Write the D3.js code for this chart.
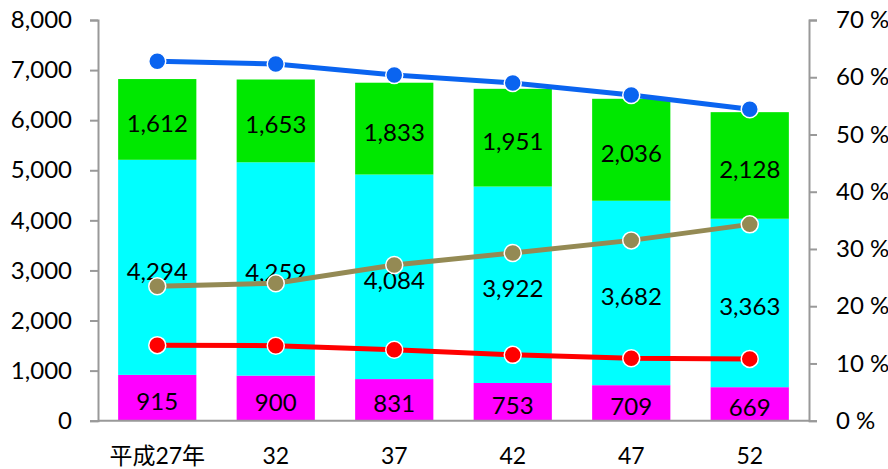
<!DOCTYPE html>
<html><head><meta charset="utf-8">
<script src="https://cdn.jsdelivr.net/npm/d3@7"></script>
<style>
body{margin:0;background:#fff;}
svg text{font-family:Lato,"Noto Sans CJK JP",sans-serif;fill:#000;}
</style></head>
<body><svg id="c" width="888" height="469"></svg>
<script>
const categories = ["平成27年","32","37","42","47","52"];
const seriesBottom = [915,900,831,753,709,669];
const seriesMiddle = [4294,4259,4084,3922,3682,3363];
const seriesTop = [1612,1653,1833,1951,2036,2128];
const lineBlue = [62.8,62.3,60.4,59.0,56.9,54.4];
const lineOlive = [23.5,24.0,27.2,29.3,31.5,34.3];
const lineRed = [13.2,13.1,12.4,11.5,10.9,10.8];
const leftTicks = [0,1000,2000,3000,4000,5000,6000,7000,8000];
const rightTicks = [0,10,20,30,40,50,60,70];

const svg = d3.select("#c");
const L = 98, R = 809, T = 20, B = 420.7;
const x = d3.scaleBand().domain(categories).range([L,R]).paddingInner(0.34).paddingOuter(0.17);
const y = d3.scaleLinear().domain([0,8000]).range([B,T]);
const y2 = d3.scaleLinear().domain([0,70]).range([B,T]);

const stackData = categories.map((c,i)=>({cat:c, a:seriesBottom[i], b:seriesMiddle[i], c:seriesTop[i]}));
const stack = d3.stack().keys(["a","b","c"])(stackData);
const colors = {a:"#FF00FF", b:"#00FFFF", c:"#00E800"};

const g = svg.append("g");
stack.forEach(layer=>{
  g.selectAll(null).data(layer).enter().append("rect")
    .attr("x", d=>x(d.data.cat)).attr("width", x.bandwidth())
    .attr("y", d=>y(d[1])).attr("height", d=>y(d[0])-y(d[1]))
    .attr("fill", colors[layer.key]);
});
stack.forEach(layer=>{
  g.selectAll(null).data(layer).enter().append("text")
    .attr("x", d=>x(d.data.cat)+x.bandwidth()/2)
    .attr("y", d=>(y(d[0])+y(d[1]))/2+3)
    .attr("text-anchor","middle").attr("dominant-baseline","central")
    .attr("font-size",24)
    .text(d=>d3.format(",")(d.data[layer.key]));
});

// axes
const axL = svg.append("g").attr("transform",`translate(${L},0)`)
  .call(d3.axisLeft(y).tickValues(leftTicks).tickFormat(d3.format(",")).tickSize(8).tickPadding(18));
const axR = svg.append("g").attr("transform",`translate(${R},0)`)
  .call(d3.axisRight(y2).tickValues(rightTicks).tickFormat(d=>d+" %").tickSize(8).tickPadding(19));
[axL,axR].forEach(a=>{
  a.select(".domain").attr("stroke","#999").attr("stroke-width",2);
  a.selectAll(".tick line").attr("stroke","#999").attr("stroke-width",2);
  a.selectAll("text").attr("font-size",24).attr("fill","#000");
});
// x axis baseline
svg.append("line").attr("x1",L).attr("x2",R).attr("y1",B).attr("y2",B).attr("stroke","#999").attr("stroke-width",2);
svg.append("g").selectAll("text").data(categories).enter().append("text")
  .attr("x",d=>x(d)+x.bandwidth()/2).attr("y",455)
  .attr("text-anchor","middle").attr("dominant-baseline","central")
  .attr("font-size",23).text(d=>d);

// lines
const lines = [[lineBlue,"#0A64F0"],[lineOlive,"#948A54"],[lineRed,"#FF0000"]];
const lineGen = d3.line().x((d,i)=>x(categories[i])+x.bandwidth()/2).y(d=>y2(d));
lines.forEach(([vals,col])=>{
  svg.append("path").datum(vals).attr("d",lineGen).attr("fill","none")
    .attr("stroke",col).attr("stroke-width",5);
  svg.selectAll(null).data(vals).enter().append("circle")
    .attr("cx",(d,i)=>x(categories[i])+x.bandwidth()/2).attr("cy",d=>y2(d))
    .attr("r",8.5).attr("fill",col).attr("stroke","#fff").attr("stroke-width",1.5);
});
</script></body></html>
